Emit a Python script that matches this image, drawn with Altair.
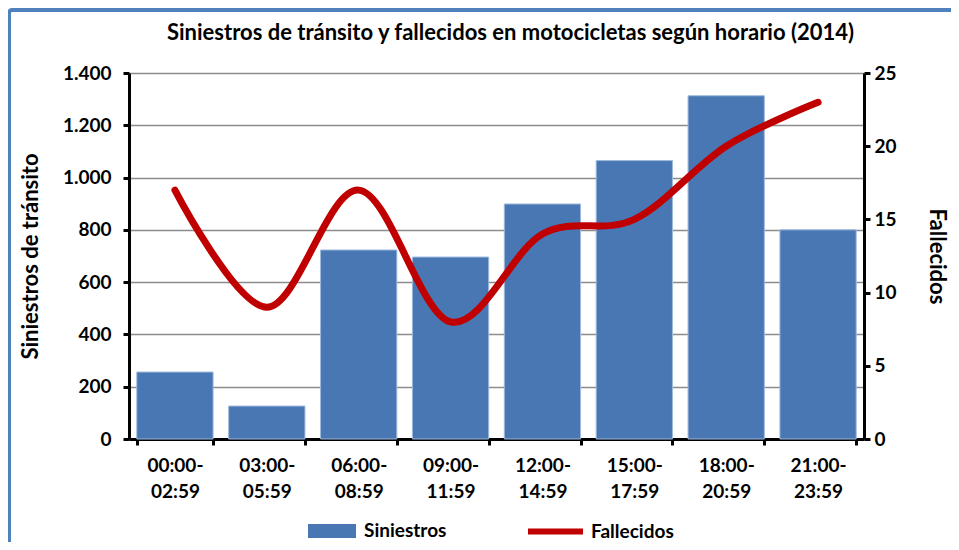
import altair as alt
import pandas as pd

horarios = ["00:00-02:59", "03:00-05:59", "06:00-08:59", "09:00-11:59",
            "12:00-14:59", "15:00-17:59", "18:00-20:59", "21:00-23:59"]
siniestros = [256, 126, 723, 696, 899, 1065, 1313, 800]
fallecidos = [17, 9, 17, 8, 14, 15, 20, 23]
left_ticks = [0, 200, 400, 600, 800, 1000, 1200, 1400]
right_ticks = [0, 5, 10, 15, 20, 25]

FONT = "Lato"
BAR = "#4877B3"
RED = "#C00000"

df = pd.DataFrame({
    "Horario": horarios,
    "Siniestros": siniestros,
    "Fallecidos": fallecidos,
    "S": ["Siniestros"] * len(horarios),
    "F": ["Fallecidos"] * len(horarios),
})

x = alt.X(
    "Horario:N", sort=horarios,
    scale=alt.Scale(paddingInner=0.17, paddingOuter=0.085),
    axis=alt.Axis(
        title=None, labelAngle=0,
        labelExpr="[slice(datum.label, 0, 6), slice(datum.label, 6)]",
        labelLineHeight=26, labelFontSize=19, labelFont=FONT,
        labelFontWeight="bold", labelColor="black", labelPadding=11,
        tickBand="extent", tickSize=6, tickWidth=3, tickColor="black",
        domainColor="black", domainWidth=3, grid=False,
    ),
)

base = alt.Chart(df)

border = alt.Chart(pd.DataFrame({"a": [0]})).mark_rect(
    fill=None, stroke="#4F81BD", strokeWidth=4, cornerRadius=3, clip=False
).encode(
    x=alt.value(-120), x2=alt.value(900), y=alt.value(-63), y2=alt.value(560)
)

bars = base.mark_bar(stroke="#9DB9DC", strokeWidth=1).encode(
    x=x,
    y=alt.Y(
        "Siniestros:Q",
        scale=alt.Scale(domain=[0, 1400]),
        axis=alt.Axis(
            values=left_ticks,
            labelExpr="replace(format(datum.value, ','), ',', '.')",
            title="Siniestros de tránsito",
            titleFont=FONT, titleFontSize=22, titleFontWeight="bold", titleColor="black",
            titleAngle=-90, titleX=-99, titleY=183, titleAlign="center",
            titleBaseline="middle",
            labelFont=FONT, labelFontSize=19, labelFontWeight="bold", labelColor="black",
            labelPadding=12, tickSize=6, tickWidth=3, tickColor="black",
            domainColor="black", domainWidth=3,
            grid=True, gridColor="#8C8C8C", gridWidth=1.5,
        ),
    ),
    fill=alt.Fill(
        "S:N",
        scale=alt.Scale(domain=["Siniestros"], range=[BAR]),
        legend=alt.Legend(
            title=None, orient="none", legendX=179, legendY=434,
            symbolType="M-1,-0.29H1V0.29H-1Z", symbolSize=2304,
            symbolStrokeWidth=0, symbolOpacity=1,
            labelFont=FONT, labelFontSize=19, labelFontWeight="bold",
            labelColor="black", labelOffset=8, padding=0,
        ),
    ),
)

line = base.mark_line(strokeWidth=7, interpolate="cardinal", strokeCap="round").encode(
    x=x,
    y=alt.Y(
        "Fallecidos:Q",
        scale=alt.Scale(domain=[0, 25]),
        axis=alt.Axis(
            orient="right", values=right_ticks,
            title="Fallecidos",
            titleFont=FONT, titleFontSize=22, titleFontWeight="bold", titleColor="black",
            titleAngle=90, titleX=72, titleY=183, titleAlign="center",
            titleBaseline="middle",
            labelFont=FONT, labelFontSize=19, labelFontWeight="bold", labelColor="black",
            labelPadding=4, tickSize=6, tickWidth=3, tickColor="black",
            domainColor="black", domainWidth=3, grid=False,
        ),
    ),
    stroke=alt.Stroke(
        "F:N",
        scale=alt.Scale(domain=["Fallecidos"], range=[RED]),
        legend=alt.Legend(
            title=None, orient="none", legendX=396, legendY=428,
            symbolType="stroke", symbolSize=3025, symbolStrokeWidth=6,
            labelFont=FONT, labelFontSize=19, labelFontWeight="bold",
            labelColor="black", labelOffset=5, padding=0,
        ),
    ),
)

chart = alt.layer(border, bars, line).resolve_scale(
    y="independent", fill="independent", stroke="independent"
).properties(
    width=735, height=366,
    title=alt.Title(
        "Siniestros de tránsito y fallecidos en motocicletas según horario (2014)",
        font=FONT, fontSize=22, fontWeight="bold", color="black",
        anchor="middle", dx=14, offset=-59, baseline="bottom",
    ),
    autosize=alt.AutoSizeParams(type="none"),
    padding={"left": 121, "top": 65, "right": 87, "bottom": 103},
    background="white",
).configure_view(stroke=None)

chart.save("out.html", embed_options={"renderer": "svg", "actions": False})
